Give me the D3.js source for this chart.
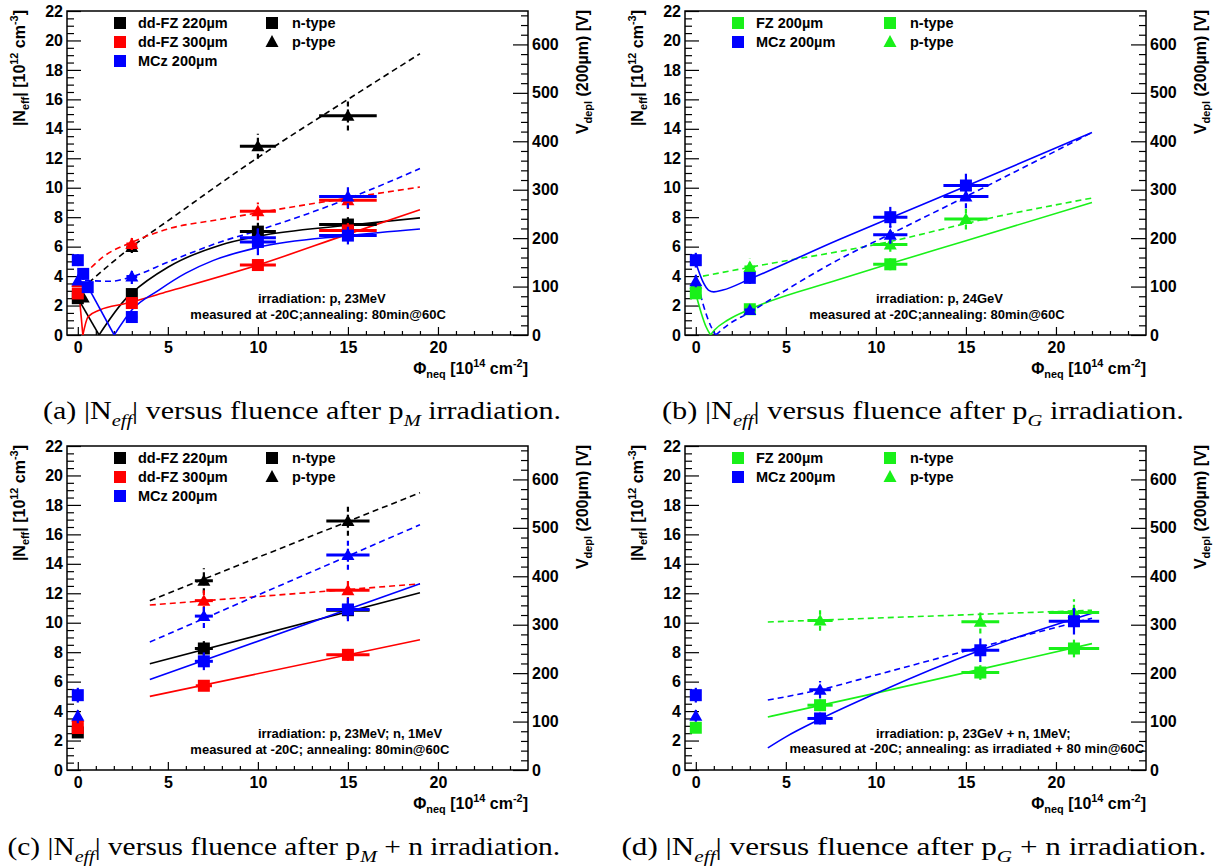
<!DOCTYPE html>
<html><head><meta charset="utf-8">
<script src="https://cdn.jsdelivr.net/npm/d3@7"></script>
<style>body{margin:0;background:#fff}svg{display:block}</style>
</head><body>
<svg id="chart" width="1220" height="868"></svg>
<script>
// ---------------- DATA ----------------
// points: [fluence, |Neff|, fluence error, |Neff| error]
// panel (a) p 23MeV
const a_FZ220_n = [[0,2.5,0,0.2],[3,2.78,0.3,0.3],[10,7.02,1.0,0.6],[15,7.5,1.6,0.5]];
const a_FZ220_p = [[0.3,2.55,0.03,0.2],[3,5.97,0.3,0.4],[10,12.82,1.0,0.85],[15,14.88,1.6,1.0]];
const a_FZ300_n = [[0,2.82,0,0.3],[3,2.17,0.3,0.25],[10,4.75,1.0,0.3],[15,7.1,1.6,0.5]];
const a_FZ300_p = [[0,3.6,0,0.3],[3,6.18,0.3,0.4],[10,8.4,1.0,0.6],[15,9.15,1.6,0.6]];
const a_MCz_n = [[0,5.08,0,0.4],[0.3,4.15,0.03,0.4],[0.55,3.25,0.05,0.3],[3,1.22,0.3,0.2],[10,6.32,1.0,0.9],[15,6.75,1.6,0.6]];
const a_MCz_p = [[0,3.7,0,0.3],[3,3.97,0.3,0.5],[10,6.6,1.0,0.8],[15,9.4,1.6,0.8]];
// fit curves (segments of [fluence, |Neff|])
const a_FZ220_nFit = [[[0,2.5],[1.18,0]],[[1.18,0],[2.7,2.5],[3,2.85],[5,4.6],[7.9,6.1],[10,6.7],[15,7.45],[19,7.95]]];
const a_FZ220_pFit = [[[0.6,3.55],[3,6.0],[5,7.75],[10,12.05],[15,16.0],[19,19.1]]];
const a_FZ300_nFit = [[[0.05,3.1],[0.28,0]],[[0.28,0],[0.57,1.24],[1.22,1.7],[2.7,2.15],[5,2.95],[10,4.75],[15,6.85],[19,8.5]]];
const a_FZ300_pFit = [[[0.35,4.1],[1.4,5.3],[3,6.3],[5,7.2],[7.9,7.85],[10,8.3],[15,9.3],[19,10.05]]];
const a_MCz_nFit = [[[0.55,3.3],[2.02,0]],[[2.02,0],[3,1.7],[4.5,3.05],[6,4.2],[7.5,5.05],[10,5.95],[15,6.75],[19,7.2]]];
const a_MCz_pFit = [[[0.4,3.7],[1.8,3.65],[3,3.95],[5,4.95],[8,6.35],[10,7.1],[15,9.25],[19,11.3]]];

// panel (b) p 24GeV
const b_FZ_n = [[0,2.83,0,0.3],[3,1.75,0.3,0.2],[10.8,4.8,0.95,0.4]];
const b_FZ_p = [[0,3.5,0,0.3],[3,4.62,0.3,0.55],[10.8,6.15,0.95,0.5],[15,7.87,1.2,0.7]];
const b_MCz_n = [[0,5.08,0,0.5],[3,3.88,0.3,0.4],[10.8,8.0,0.95,0.7],[15,10.15,1.25,0.8]];
const b_MCz_p = [[0,3.65,0,0.4],[3,1.7,0.3,0.25],[10.8,6.8,0.95,0.6],[15,9.4,1.25,0.8]];
const b_FZ_nFit = [[[0,2.8],[0.3,1.5],[0.57,0.56],[0.82,0]],[[0.82,0],[1.04,0.34],[1.78,1.02],[3,1.75],[7.9,3.75],[10.8,4.85],[15,6.4],[22,9.0]]];
const b_FZ_pFit = [[[0.4,4.0],[3,4.6],[10.8,6.35],[16,7.85],[22,9.3]]];
const b_MCz_nFit = [[[0,4.9],[0.4,3.6],[0.7,3.05],[1.0,2.93],[1.5,3.05],[3,3.8],[7.9,6.45],[10.8,7.95],[15,10.1],[22,13.75]]];
const b_MCz_pFit = [[[0,4.1],[0.39,2.15],[0.85,0.56],[1.1,0]],[[1.1,0],[1.8,0.7],[2.94,1.5],[4.56,2.72],[7.9,5.1],[10.8,6.85],[15,9.4],[22,13.75]]];

// panel (c) p 23MeV + n 1MeV
const c_FZ220_n = [[0,2.55,0,0.3],[7,8.25,0.5,0.5],[15,10.85,1.2,0.6]];
const c_FZ220_p = [[7,12.85,0.5,0.85],[15,16.9,1.2,1.0]];
const c_FZ300_n = [[0,2.85,0,0.3],[7,5.72,0.45,0.3],[15,7.82,1.2,0.4]];
const c_FZ300_p = [[0,3.6,0,0.3],[7,11.5,0.5,0.7],[15,12.2,1.2,0.8]];
const c_MCz_n = [[0,5.08,0,0.5],[7,7.38,0.5,0.6],[15,10.9,1.2,0.8]];
const c_MCz_p = [[0,3.68,0,0.5],[7,10.45,0.5,0.8],[15,14.6,1.2,1.0]];
const c_FZ220_nFit = [[[4,7.22],[19,12.03]]];
const c_FZ220_pFit = [[[4,11.5],[19,18.83]]];
const c_FZ300_nFit = [[[4,5.0],[19,8.85]]];
const c_FZ300_pFit = [[[4,11.2],[19,12.64]]];
const c_MCz_nFit = [[[4,6.14],[19,12.64]]];
const c_MCz_pFit = [[[4,8.69],[19,16.65]]];

// panel (d) p 23GeV + n 1MeV
const d_FZ_n = [[0,2.87,0,0.3],[6.9,4.4,0.7,0.4],[15.8,6.62,1.05,0.5],[21,8.25,1.4,0.6]];
const d_FZ_p = [[6.9,10.15,0.7,0.7],[15.8,10.07,1.05,0.8],[21,10.7,1.4,0.9]];
const d_MCz_n = [[0,5.08,0,0.5],[6.9,3.5,0.7,0.4],[15.8,8.13,1.05,0.8],[21,10.1,1.4,0.9]];
const d_MCz_p = [[0,3.68,0,0.4],[6.9,5.45,0.6,0.6]];
const d_FZ_nFit = [[[4,3.6],[10,5.22],[22,8.58]]];
const d_FZ_pFit = [[[4,10.05],[22,10.85]]];
const d_MCz_nFit = [[[4,1.5],[5,2.25],[6.9,3.45],[10,5.2],[15.8,8.13],[22,10.65]]];
const d_MCz_pFit = [[[4,4.75],[6.9,5.45],[10,6.45],[15.8,8.35],[22,10.3]]];

// axes / labels
const xTicks = [0,5,10,15,20];
const yTicks = [0,2,4,6,8,10,12,14,16,18,20,22];
const vTicks = [0,100,200,300,400,500,600];
const legendAC = ["dd-FZ 220\u00b5m","dd-FZ 300\u00b5m","MCz 200\u00b5m"];
const legendBD = ["FZ 200\u00b5m","MCz 200\u00b5m"];
const typeLabels = ["n-type","p-type"];
const notesA = ["irradiation: p, 23MeV","measured at -20C;annealing: 80min@60C"];
const notesB = ["irradiation: p, 24GeV","measured at -20C;annealing: 80min@60C"];
const notesC = ["irradiation: p, 23MeV; n, 1MeV","measured at -20C; annealing: 80min@60C"];
const notesD = ["irradiation: p, 23GeV + n, 1MeV;","measured at -20C; annealing: as irradiated + 80 min@60C"];
const captionA = [["(a) |N"],["eff","sub"],["| versus fluence after p"],["M","sub"],[" irradiation."]];
const captionB = [["(b) |N"],["eff","sub"],["| versus fluence after p"],["G","sub"],[" irradiation."]];
const captionC = [["(c) |N"],["eff","sub"],["| versus fluence after p"],["M","sub"],[" + n irradiation."]];
const captionD = [["(d) |N"],["eff","sub"],["| versus fluence after p"],["G","sub"],[" + n irradiation."]];

// ---------------- STYLE / LAYOUT ----------------
const BLACK="#000000", RED="#ff0000", BLUE="#0000ff", GREEN="#19f019";
const L=67, R=528, T=11, B=335;
const xDomain=[-0.6,25], yDomain=[0,22], vDomain=[0,669];
const FONT="'Liberation Sans', Arial, Helvetica, sans-serif";
const svg = d3.select("#chart");
svg.append("rect").attr("width",1220).attr("height",868).attr("fill","#fff");

function rich(sel, segs, size){
  let cur=0;
  segs.forEach(s=>{
    const kind=s[1];
    const target = kind==="sub"? 0.28*size : kind==="sup" ? -0.42*size : 0;
    const ts = sel.append("tspan").attr("dy", (target-cur).toFixed(2)).text(s[0]);
    if(kind) ts.attr("font-size", (size*0.68).toFixed(1));
    if(s[2]) ts.attr("font-style","italic");
    cur=target;
  });
  if(cur!==0) sel.append("tspan").attr("dy",(-cur).toFixed(2)).text("");
}

function drawPanel(P, idx){
  const g = svg.append("g").attr("transform",`translate(${P.ox},${P.oy})`);
  const x = d3.scaleLinear().domain(xDomain).range([L,R]);
  const y = d3.scaleLinear().domain(yDomain).range([B,T]);
  const v = d3.scaleLinear().domain(vDomain).range([B,T]);
  const cid = "clip"+idx;
  g.append("clipPath").attr("id",cid).append("rect").attr("x",L).attr("y",T).attr("width",R-L).attr("height",B-T);

  const styleAxis = a => {
    a.select(".domain").remove();
    a.selectAll("line").attr("stroke","#000").attr("stroke-width",1.2);
    a.selectAll("text").attr("font-family",FONT).attr("font-weight","bold").attr("font-size",16).attr("fill","#000");
  };
  // left axis
  g.append("g").attr("transform",`translate(${L},0)`)
    .call(d3.axisLeft(y).tickValues(yTicks).tickSizeInner(-14).tickSizeOuter(0).tickPadding(4).tickFormat(d3.format("d")))
    .call(styleAxis);
  g.append("g").attr("transform",`translate(${L},0)`)
    .call(d3.axisLeft(y).tickValues(d3.range(0,22.01,0.5).filter(t=>t%2!==0)).tickSizeInner(-7).tickSizeOuter(0).tickFormat(""))
    .call(styleAxis);
  // bottom axis
  g.append("g").attr("transform",`translate(0,${B})`)
    .call(d3.axisBottom(x).tickValues(xTicks).tickSizeInner(-8).tickSizeOuter(0).tickPadding(7).tickFormat(d3.format("d")))
    .call(styleAxis);
  g.append("g").attr("transform",`translate(0,${B})`)
    .call(d3.axisBottom(x).tickValues(d3.range(1,25,1).filter(t=>t%5!==0)).tickSizeInner(-4).tickSizeOuter(0).tickFormat(""))
    .call(styleAxis);
  // right axis
  g.append("g").attr("transform",`translate(${R},0)`)
    .call(d3.axisRight(v).tickValues(vTicks).tickSizeInner(-15).tickSizeOuter(0).tickPadding(4).tickFormat(d3.format("d")))
    .call(styleAxis);
  g.append("g").attr("transform",`translate(${R},0)`)
    .call(d3.axisRight(v).tickValues(d3.range(20,669,20).filter(t=>t%100!==0)).tickSizeInner(-7).tickSizeOuter(0).tickFormat(""))
    .call(styleAxis);
  // frame
  g.append("rect").attr("x",L).attr("y",T).attr("width",R-L).attr("height",B-T)
    .attr("fill","none").attr("stroke","#000").attr("stroke-width",1.5);

  // axis titles
  const yt = g.append("text").attr("transform",`translate(25,${T-1}) rotate(-90)`).attr("text-anchor","end")
    .attr("font-family",FONT).attr("font-weight","bold").attr("font-size",16);
  rich(yt,[["|N"],["eff","sub"],["| [10"],["12","sup"],[" cm"],["-3","sup"],["]"]],16);
  const vt = g.append("text").attr("transform",`translate(588,${T-1}) rotate(-90)`).attr("text-anchor","end")
    .attr("font-family",FONT).attr("font-weight","bold").attr("font-size",16);
  rich(vt,[["V"],["depl","sub"],[" (200\u00b5m) [V]"]],16);
  const xt = g.append("text").attr("x",R).attr("y",374).attr("text-anchor","end")
    .attr("font-family",FONT).attr("font-weight","bold").attr("font-size",16);
  rich(xt,[["\u03a6"],["neq","sub"],[" [10"],["14","sup"],[" cm"],["-2","sup"],["]"]],16);

  // fits
  const line = d3.line().x(d=>x(d[0])).y(d=>y(d[1])).curve(d3.curveMonotoneX);
  const fg = g.append("g").attr("clip-path",`url(#${cid})`);
  P.series.forEach(s=>{
    s.fit.forEach(seg=>{
      fg.append("path").attr("d",line(seg)).attr("fill","none").attr("stroke",s.color)
        .attr("stroke-width",1.6).attr("stroke-dasharray",s.shape==="tri"?"6,4":null);
    });
  });

  // points
  const pg = g.append("g");
  P.series.forEach(s=>{
    s.data.forEach(d=>{
      const cx=x(d[0]), cy=y(d[1]);
      const dash = s.shape==="tri" ? "5,3" : null;
      if(d[2]>0) pg.append("line").attr("x1",x(d[0]-d[2])).attr("x2",x(d[0]+d[2])).attr("y1",cy).attr("y2",cy)
        .attr("stroke",s.color).attr("stroke-width",3);
      if(d[3]>0) pg.append("line").attr("x1",cx).attr("x2",cx).attr("y1",y(d[1]-d[3])).attr("y2",y(d[1]+d[3]))
        .attr("stroke",s.color).attr("stroke-width",2.2).attr("stroke-dasharray",dash);
      if(s.shape==="sq") pg.append("rect").attr("x",cx-6).attr("y",cy-6).attr("width",12).attr("height",12).attr("fill",s.color);
      else pg.append("path").attr("d",`M${cx},${cy-6.5}L${cx+6.5},${cy+5}L${cx-6.5},${cy+5}Z`).attr("fill",s.color);
    });
  });

  // legend
  const lg = g.append("g").attr("font-family",FONT).attr("font-weight","bold").attr("font-size",14.5);
  const rows=[T+12,T+31,T+50];
  P.legend.forEach((name,i)=>{
    lg.append("rect").attr("x",L+47).attr("y",rows[i]-6).attr("width",12).attr("height",12).attr("fill",P.legendColors[i]);
    lg.append("text").attr("x",L+71).attr("y",rows[i]).attr("dy","0.36em").text(name);
  });
  typeLabels.forEach((name,i)=>{
    const cx=L+205, cy=rows[i];
    if(i===0) lg.append("rect").attr("x",cx-6).attr("y",cy-6).attr("width",12).attr("height",12).attr("fill",P.typeColor);
    else lg.append("path").attr("d",`M${cx},${cy-7}L${cx+6.5},${cy+5}L${cx-6.5},${cy+5}Z`).attr("fill",P.typeColor);
    lg.append("text").attr("x",L+225).attr("y",cy).attr("dy","0.36em").text(name);
  });

  // notes
  P.notes.forEach((t,i)=>{
    g.append("text").attr("x",x(P.notePos[i][0])).attr("y",y(P.notePos[i][1])).attr("dy","0.36em")
      .attr("font-family",FONT).attr("font-weight","bold").attr("font-size",13).text(t);
  });

  // caption (stretched horizontally to the reference width)
  const cap = g.append("text").attr("x",0).attr("y",0)
    .attr("font-family","'Liberation Serif','DejaVu Serif',serif").attr("font-size",26);
  rich(cap, P.caption.map(s=>s[1]==="sub"?[s[0],"sub",1]:s), 26);
  const w = cap.node().getComputedTextLength();
  cap.attr("transform",`translate(${P.capX - P.capW/2},${P.capY}) scale(${(P.capW/w).toFixed(4)},1)`);
}

const panels = [
  {ox:0, oy:0, series:[
    {data:a_FZ220_n, fit:a_FZ220_nFit, color:BLACK, shape:"sq"},
    {data:a_FZ220_p, fit:a_FZ220_pFit, color:BLACK, shape:"tri"},
    {data:a_FZ300_n, fit:a_FZ300_nFit, color:RED, shape:"sq"},
    {data:a_FZ300_p, fit:a_FZ300_pFit, color:RED, shape:"tri"},
    {data:a_MCz_n, fit:a_MCz_nFit, color:BLUE, shape:"sq"},
    {data:a_MCz_p, fit:a_MCz_pFit, color:BLUE, shape:"tri"}],
   legend:legendAC, legendColors:[BLACK,RED,BLUE], typeColor:BLACK,
   notes:notesA, notePos:[[10,2.5],[6.25,1.4]], caption:captionA, capX:302, capW:518, capY:419},
  {ox:618, oy:0, series:[
    {data:b_FZ_n, fit:b_FZ_nFit, color:GREEN, shape:"sq"},
    {data:b_FZ_p, fit:b_FZ_pFit, color:GREEN, shape:"tri"},
    {data:b_MCz_n, fit:b_MCz_nFit, color:BLUE, shape:"sq"},
    {data:b_MCz_p, fit:b_MCz_pFit, color:BLUE, shape:"tri"}],
   legend:legendBD, legendColors:[GREEN,BLUE], typeColor:GREEN,
   notes:notesB, notePos:[[10,2.5],[6.3,1.4]], caption:captionB, capX:305, capW:522, capY:419},
  {ox:0, oy:435, series:[
    {data:c_FZ220_n, fit:c_FZ220_nFit, color:BLACK, shape:"sq"},
    {data:c_FZ220_p, fit:c_FZ220_pFit, color:BLACK, shape:"tri"},
    {data:c_FZ300_n, fit:c_FZ300_nFit, color:RED, shape:"sq"},
    {data:c_FZ300_p, fit:c_FZ300_pFit, color:RED, shape:"tri"},
    {data:c_MCz_n, fit:c_MCz_nFit, color:BLUE, shape:"sq"},
    {data:c_MCz_p, fit:c_MCz_pFit, color:BLUE, shape:"tri"}],
   legend:legendAC, legendColors:[BLACK,RED,BLUE], typeColor:BLACK,
   notes:notesC, notePos:[[10,2.48],[6.25,1.4]], caption:captionC, capX:284, capW:553, capY:420},
  {ox:618, oy:435, series:[
    {data:d_FZ_n, fit:d_FZ_nFit, color:GREEN, shape:"sq"},
    {data:d_FZ_p, fit:d_FZ_pFit, color:GREEN, shape:"tri"},
    {data:d_MCz_n, fit:d_MCz_nFit, color:BLUE, shape:"sq"},
    {data:d_MCz_p, fit:d_MCz_pFit, color:BLUE, shape:"tri"}],
   legend:legendBD, legendColors:[GREEN,BLUE], typeColor:GREEN,
   notes:notesD, notePos:[[10,2.48],[5.2,1.47]], caption:captionD, capX:296, capW:585, capY:420}
];
panels.forEach(drawPanel);
</script>
</body></html>
